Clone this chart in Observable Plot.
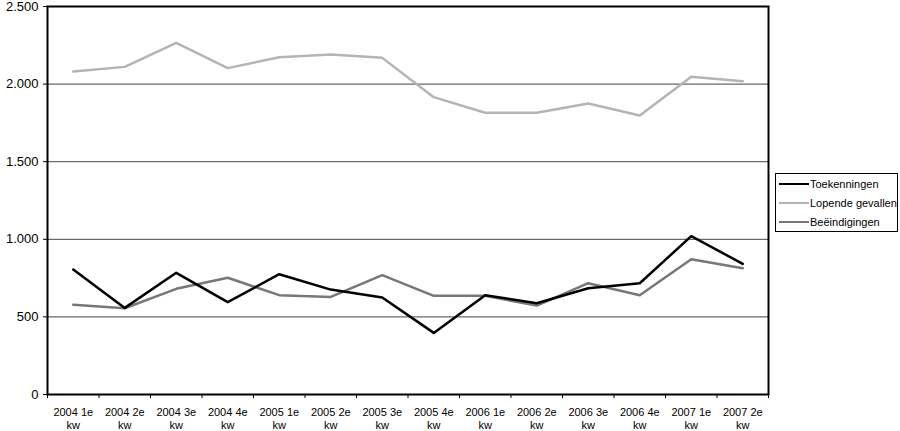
<!DOCTYPE html>
<html>
<head>
<meta charset="utf-8">
<script src="https://cdn.jsdelivr.net/npm/d3@7"></script>
<script src="https://cdn.jsdelivr.net/npm/@observablehq/plot@0.6"></script>
<style>
  html, body { margin: 0; padding: 0; background: #fff; }
  #wrap { position: relative; width: 900px; height: 431px; font-family: "Liberation Sans", Arial, sans-serif; }
  #legend { position: absolute; left: 775px; top: 173px; width: 121px; height: 57px; border: 1.5px solid #000; background: #fff; font-size: 11px; }
  .item { position: absolute; left: 3px; height: 14px; display: flex; align-items: center; }
  .sw { width: 30px; height: 0; border-top: 2.5px solid #000; margin-right: 1px; }
</style>
</head>
<body>
<div id="wrap"></div>
<script>
const quarters = ["2004 1e kw","2004 2e kw","2004 3e kw","2004 4e kw","2005 1e kw","2005 2e kw","2005 3e kw","2005 4e kw","2006 1e kw","2006 2e kw","2006 3e kw","2006 4e kw","2007 1e kw","2007 2e kw"];
const toekenningen = [805, 558, 784, 595, 775, 676, 625, 397, 640, 588, 685, 717, 1020, 842];
const lopendeGevallen = [2081, 2111, 2266, 2103, 2173, 2191, 2169, 1916, 1815, 1815, 1875, 1798, 2047, 2019];
const beeindigingen = [578, 556, 681, 752, 640, 629, 769, 636, 636, 573, 717, 640, 872, 814];
const yTicks = [0, 500, 1000, 1500, 2000, 2500];
const seriesNames = ["Toekenningen", "Lopende gevallen", "Beëindigingen"];
const seriesColors = ["#000000", "#b4b4b4", "#777777"];

const idx = quarters.map((d, i) => i);
const bounds = d3.range(-0.5, quarters.length, 1);
const fmt = d => d3.format(",")(d).replace(/,/g, ".");
const label = i => { const q = quarters[i]; const k = q.lastIndexOf(" "); return q.slice(0, k) + "\n" + q.slice(k + 1); };

const chart = Plot.plot({
  width: 900, height: 431,
  marginLeft: 47, marginRight: 132, marginTop: 6, marginBottom: 37,
  style: { fontFamily: "'Liberation Sans', Arial, sans-serif", fontSize: "11px", color: "#000", background: "#fff", overflow: "visible" },
  x: { domain: [-0.5, quarters.length - 0.5], axis: null },
  y: { domain: [0, 2500], axis: null },
  marks: [
    Plot.gridY(yTicks.slice(1, -1), { stroke: "#444", strokeOpacity: 1, strokeWidth: 1 }),
    Plot.axisY({ ticks: yTicks, tickSize: 4, tickPadding: 5, tickFormat: fmt, fontSize: 13 }),
    Plot.axisX({ ticks: bounds, tickSize: 4, tickFormat: () => "" }),
    Plot.axisX({ ticks: idx, tickSize: 0, tickPadding: 12, tickFormat: label, lineHeight: 1.2 }),
    Plot.lineY(lopendeGevallen, { x: (d, i) => i, y: d => d, stroke: seriesColors[1], strokeWidth: 2.5 }),
    Plot.lineY(beeindigingen, { x: (d, i) => i, y: d => d, stroke: seriesColors[2], strokeWidth: 2.5 }),
    Plot.lineY(toekenningen, { x: (d, i) => i, y: d => d, stroke: seriesColors[0], strokeWidth: 2.5 }),
    Plot.frame({ stroke: "#000", strokeWidth: 2 })
  ]
});
const wrap = document.getElementById("wrap");
wrap.appendChild(chart);

const legend = document.createElement("div");
legend.id = "legend";
seriesNames.forEach((name, i) => {
  const it = document.createElement("div");
  it.className = "item";
  it.style.top = (3 + i * 19) + "px";
  const sw = document.createElement("span");
  sw.className = "sw";
  sw.style.borderTopColor = seriesColors[i];
  const t = document.createElement("span");
  t.textContent = name;
  it.appendChild(sw); it.appendChild(t);
  legend.appendChild(it);
});
wrap.appendChild(legend);
</script>
</body>
</html>
